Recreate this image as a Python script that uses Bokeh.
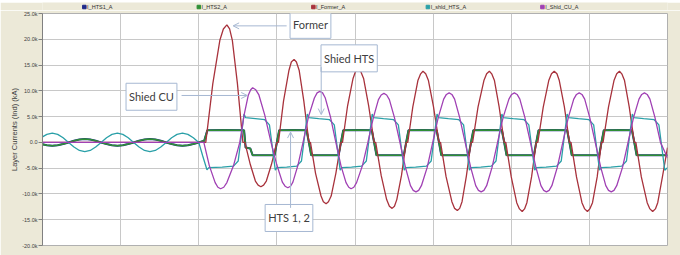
from bokeh.plotting import figure
from bokeh.layouts import column
from bokeh.models import Range1d, FixedTicker, Label, Arrow, OpenHead, Title
from bokeh.core.properties import value
from bokeh.embed import file_html
from bokeh.resources import INLINE

# ---------------- data (time in ms, currents in kA) ----------------
x_grid_ms = [0, 20, 40, 60, 80, 100, 120, 140, 160]
y_ticks = [-20, -15, -10, -5, 0, 5, 10, 15, 20, 25]
y_tick_labels = ["-20.0k", "-15.0k", "-10.0k", "-5.0k", "0.0", "5.0k", "10.0k", "15.0k", "20.0k", "25.0k"]

legend_names = ["I_HTS1_A", "I_HTS2_A", "I_Former_A", "I_shld_HTS_A", "I_Shld_CU_A"]

former_t = [0, 41.8, 43.6, 45.4, 46.3, 47.2, 47.9, 48.6, 49.9, 51.3,
            51.8, 53.2, 54.5, 55.2, 55.9, 56.6, 57.3, 58.6, 60.0,
            60.4, 61.7, 63.1, 63.7, 64.4, 65.0, 65.7, 66.9, 68.2,
            68.6, 69.9, 71.3, 71.9, 72.6, 73.2, 73.9, 75.1, 76.4,
            76.8, 78.1, 79.5, 80.1, 80.8, 81.5, 82.2, 83.5, 84.9,
            85.3, 86.7, 88.1, 88.8, 89.5, 90.1, 90.7, 91.9, 93.1,
            93.5, 94.8, 96.1, 96.8, 97.4, 98.1, 98.8, 100.1, 101.5,
            101.9, 103.3, 104.8, 105.5, 106.2, 106.8, 107.4, 108.5, 109.7,
            110.1, 111.5, 113.0, 113.7, 114.4, 115.0, 115.7, 116.9, 118.2,
            118.6, 120.0, 121.4, 122.1, 122.8, 123.4, 124.0, 125.2, 126.4,
            126.8, 128.2, 129.6, 130.3, 131.0, 131.7, 132.3, 133.6, 134.9,
            135.3, 136.7, 138.1, 138.8, 139.5, 140.1, 140.8, 142.0, 143.1,
            143.5, 144.9, 146.3, 147.0, 147.7, 148.3, 149.0, 150.2, 151.5,
            151.9, 153.3, 154.8, 155.5, 156.2, 156.9, 157.5, 158.7, 160.0]
former_kA = [0, 0, 11.4, 19.8, 22.0, 22.8, 22.0, 19.8, 11.4, 0,
             0, -4.3, -7.5, -8.3, -8.6, -8.3, -7.5, -4.3, 0,
             0, 8.0, 14.0, 15.6, 16.1, 15.6, 14.0, 8.0, 0,
             0, -6.0, -10.4, -11.5, -11.9, -11.5, -10.4, -6.0, 0,
             0, 7.1, 12.4, 13.7, 14.2, 13.7, 12.4, 7.1, 0,
             0, -6.4, -11.1, -12.4, -12.8, -12.4, -11.1, -6.4, 0,
             0, 6.9, 12.0, 13.3, 13.8, 13.3, 12.0, 6.9, 0,
             0, -6.6, -11.5, -12.8, -13.2, -12.8, -11.5, -6.6, 0,
             0, 6.9, 12.0, 13.3, 13.8, 13.3, 12.0, 6.9, 0,
             0, -6.7, -11.7, -12.9, -13.4, -12.9, -11.7, -6.7, 0,
             0, 6.9, 12.0, 13.3, 13.8, 13.3, 12.0, 6.9, 0,
             0, -6.7, -11.7, -12.9, -13.4, -12.9, -11.7, -6.7, 0,
             0, 6.9, 12.0, 13.3, 13.8, 13.3, 12.0, 6.9, 0,
             0, -6.7, -11.7, -12.9, -13.4, -12.9, -11.7, -6.7, -1.0]

shldcu_t = [0, 41.3, 42.7, 44.2, 44.9, 45.6, 46.4, 47.2, 48.9, 50.5,
            51.6, 52.7, 53.3, 53.8, 54.6, 55.4, 56.9, 58.5,
            60.0, 61.4, 62.1, 62.8, 63.5, 64.1, 65.4, 66.7,
            68.1, 69.6, 70.3, 71.0, 71.7, 72.4, 73.7, 75.1,
            76.4, 77.7, 78.4, 79.0, 79.7, 80.4, 81.9, 83.3,
            84.7, 86.0, 86.7, 87.4, 88.1, 88.8, 90.1, 91.5,
            92.9, 94.2, 94.9, 95.6, 96.3, 97.0, 98.5, 99.9,
            101.3, 102.7, 103.4, 104.1, 104.8, 105.5, 106.8, 108.2,
            109.6, 110.9, 111.6, 112.3, 113.0, 113.7, 115.1, 116.5,
            117.9, 119.4, 120.1, 120.8, 121.5, 122.2, 123.5, 124.9,
            126.3, 127.6, 128.3, 129.0, 129.7, 130.4, 131.8, 133.2,
            134.6, 136.0, 136.7, 137.4, 138.1, 138.8, 140.1, 141.5,
            142.9, 144.2, 144.9, 145.6, 146.3, 147.0, 148.5, 149.9,
            151.3, 152.7, 153.4, 154.1, 154.8, 155.5, 156.8, 158.2,
            160.0]
shldcu_kA = [0, 0, -4.5, -7.8, -8.7, -9.0, -8.7, -7.8, -4.5, 0,
             5.3, 9.2, 10.2, 10.6, 10.2, 9.2, 5.3, 0,
             -4.4, -7.7, -8.5, -8.8, -8.5, -7.7, -4.4, 0,
             5.0, 8.6, 9.6, 9.9, 9.6, 8.6, 5.0, 0,
             -4.5, -7.8, -8.7, -9.0, -8.7, -7.8, -4.5, 0,
             4.8, 8.3, 9.2, 9.5, 9.2, 8.3, 4.8, 0,
             -4.8, -8.4, -9.3, -9.6, -9.3, -8.4, -4.8, 0,
             4.8, 8.4, 9.3, 9.6, 9.3, 8.4, 4.8, 0,
             -4.8, -8.4, -9.3, -9.6, -9.3, -8.4, -4.8, 0,
             4.8, 8.4, 9.3, 9.6, 9.3, 8.4, 4.8, 0,
             -4.8, -8.4, -9.3, -9.6, -9.3, -8.4, -4.8, 0,
             4.8, 8.4, 9.3, 9.6, 9.3, 8.4, 4.8, 0,
             -4.8, -8.4, -9.3, -9.6, -9.3, -8.4, -4.8, 0,
             4.8, 8.4, 9.3, 9.6, 9.3, 8.4, 4.8, 0,
             -3.0]

shldhts_t = [0, 1.11, 2.5, 3.89, 5.28, 6.67, 8.06, 9.44, 10.83, 12.22,
             13.61, 15.0, 16.39, 17.78, 19.17, 20.56, 21.94, 23.33, 24.72, 26.11,
             27.5, 28.89, 30.28, 31.67, 33.06, 34.44, 35.83, 37.22, 38.61, 40.0,
             41.0, 42.1, 42.6, 46.0,
             48.9, 50.1, 51.6, 52.0, 54.5,
             56.9, 58.1, 59.6, 60.0, 62.5,
             65.1, 66.3, 67.8, 68.2, 70.7,
             73.5, 74.7, 76.2, 76.6, 79.1,
             81.7, 82.9, 84.4, 84.8, 87.3,
             89.9, 91.1, 92.6, 93.0, 95.5,
             98.3, 99.5, 101.0, 101.4, 103.9,
             106.6, 107.8, 109.3, 109.7, 112.2,
             114.9, 116.1, 117.6, 118.0, 120.5,
             123.3, 124.5, 126.0, 126.4, 128.9,
             131.6, 132.8, 134.3, 134.7, 137.2,
             139.9, 141.1, 142.6, 143.0, 145.5,
             148.3, 149.5, 151.0, 151.4, 153.9,
             156.6, 157.8, 159.3, 160.0]
shldhts_kA = [1.06, 1.56, 1.8, 1.56, 0.9, 0, -0.9, -1.56, -1.8, -1.56,
              -0.9, 0, 0.9, 1.56, 1.8, 1.56, 0.9, 0, -0.9, -1.56,
              -1.8, -1.56, -0.9, 0, 0.9, 1.56, 1.8, 1.56, 0.9, 0,
              -2.6, -5.3, -4.9, -4.8,
              -4.6, -3.6, 5.5, 4.8, 4.6,
              4.4, 3.4, -5.4, -4.9, -4.8,
              -4.6, -3.6, 5.5, 4.8, 4.6,
              4.4, 3.4, -5.4, -4.9, -4.8,
              -4.6, -3.6, 5.5, 4.8, 4.6,
              4.4, 3.4, -5.4, -4.9, -4.8,
              -4.6, -3.6, 5.5, 4.8, 4.6,
              4.4, 3.4, -5.4, -4.9, -4.8,
              -4.6, -3.6, 5.5, 4.8, 4.6,
              4.4, 3.4, -5.4, -4.9, -4.8,
              -4.6, -3.6, 5.5, 4.8, 4.6,
              4.4, 3.4, -5.4, -4.9, -4.8,
              -4.6, -3.6, 5.5, 4.8, 4.6,
              4.4, 3.4, -5.4, -4.9]

hts_t = [0, 1.11, 2.5, 3.89, 5.28, 6.67, 8.06, 9.44, 10.83, 12.22,
         13.61, 15.0, 16.39, 17.78, 19.17, 20.56, 21.94, 23.33, 24.72, 26.11,
         27.5, 28.89, 30.28, 31.67, 33.06, 34.44, 35.83, 37.22, 38.61, 40.0,
         41.4, 42.2, 46.5, 51.6, 52.0, 53.2, 53.8, 57.0,
         59.4, 60.0, 60.6, 64.4,
         67.6, 68.2, 68.8, 72.6,
         75.8, 76.4, 77.0, 80.8,
         84.3, 84.9, 85.5, 89.5,
         92.5, 93.1, 93.7, 97.4,
         100.9, 101.5, 102.1, 106.2,
         109.1, 109.7, 110.3, 114.4,
         117.6, 118.2, 118.8, 122.8,
         125.8, 126.4, 127.0, 131.0,
         134.3, 134.9, 135.5, 139.5,
         142.5, 143.1, 143.7, 147.7,
         150.9, 151.5, 152.1, 156.2, 160.0]
hts2_kA = [-0.38, -0.56, -0.65, -0.56, -0.33, 0, 0.33, 0.56, 0.65, 0.56,
           0.33, 0, -0.33, -0.56, -0.65, -0.56, -0.33, 0, 0.33, 0.56,
           0.65, 0.56, 0.33, 0, -0.33, -0.56, -0.65, -0.56, -0.33, 0,
           0.3, 2.35, 2.4, 2.35, -1.0, -1.2, -2.5, -2.5,
           -2.5, 0.0, 2.35, 2.4,
           2.35, 0.0, -2.5, -2.5,
           -2.5, 0.0, 2.35, 2.4,
           2.35, 0.0, -2.5, -2.5,
           -2.5, 0.0, 2.35, 2.4,
           2.35, 0.0, -2.5, -2.5,
           -2.5, 0.0, 2.35, 2.4,
           2.35, 0.0, -2.5, -2.5,
           -2.5, 0.0, 2.35, 2.4,
           2.35, 0.0, -2.5, -2.5,
           -2.5, 0.0, 2.35, 2.4,
           2.35, 0.0, -2.5, -2.5, -2.5]
# HTS1 and HTS2 layer currents lie on top of each other in the picture
hts1_kA = list(hts2_kA)

assert len(former_t) == len(former_kA)
assert len(shldcu_t) == len(shldcu_kA)
assert len(shldhts_t) == len(shldhts_kA)
assert len(hts_t) == len(hts2_kA)

# ---------------- styling ----------------
BEIGE = "#ECE9D8"
TXT = "#404040"
colors = ["#1f2a8a", "#2f8f35", "#a8323c", "#2aa0a8", "#a040b4"]
C_HTS1, C_HTS2, C_FORMER, C_SHLDHTS, C_SHLDCU = colors

# ---------------- legend strip (top) ----------------
LEG_W, LEG_H = 680, 10
lg = figure(width=LEG_W, height=LEG_H, output_backend="svg", toolbar_location=None,
            x_range=Range1d(0, LEG_W), y_range=Range1d(0, LEG_H),
            x_axis_type=None, y_axis_type=None, min_border=0)
lg.grid.visible = False
lg.outline_line_color = None
lg.background_fill_color = BEIGE
lg.border_fill_color = BEIGE
leg_x = [45.5 + 124.6 * i for i in range(len(legend_names))]
lg.scatter(x=leg_x, y=[5.5] * len(leg_x), marker="square", size=3.5,
           fill_color=colors, line_color=colors)
lg.text(x=[v + 3 for v in leg_x], y=[5.5] * len(leg_x), text=legend_names,
        text_font=value("Liberation Sans"), text_font_size="5.5px",
        text_color="#303030", text_baseline="middle", text_align="left")

# ---------------- main plot ----------------
p = figure(width=680, height=245, output_backend="svg", toolbar_location=None,
           x_range=Range1d(0, 160), y_range=Range1d(-20, 25),
           min_border_left=42, min_border_right=13, min_border_top=3, min_border_bottom=10)
p.border_fill_color = BEIGE
p.background_fill_color = "white"
p.outline_line_color = "#b0b0b0"

p.xaxis.visible = False
p.xgrid.ticker = FixedTicker(ticks=x_grid_ms)
p.ygrid.ticker = FixedTicker(ticks=y_ticks)
p.grid.grid_line_color = "#c8c8c8"
p.grid.grid_line_width = 1

ax = p.yaxis[0]
ax.ticker = FixedTicker(ticks=y_ticks)
ax.major_label_overrides = {t: s for t, s in zip(y_ticks, y_tick_labels)}
ax.major_label_text_font = "Liberation Sans"
ax.major_label_text_font_size = "5.5px"
ax.major_label_text_color = TXT
ax.major_label_standoff = 1
ax.major_tick_out = 4
ax.major_tick_in = 0
ax.minor_tick_line_color = None
ax.axis_line_color = "#808080"
ax.major_tick_line_color = "#808080"

p.add_layout(Title(text="Layer Currents (Ind) (kA)", align="center", offset=-15,
                   text_font="Liberation Sans", text_font_size="7.5px",
                   text_font_style="normal", text_color=TXT, standoff=2), "left")

p.line(hts_t, hts1_kA, color=C_HTS1, line_width=2.1)
p.line(hts_t, hts2_kA, color=C_HTS2, line_width=1.6)
p.line(former_t, former_kA, color=C_FORMER, line_width=1.3)
p.line(shldhts_t, shldhts_kA, color=C_SHLDHTS, line_width=1.3)
p.line(shldcu_t, shldcu_kA, color=C_SHLDCU, line_width=1.3)

# annotation boxes and arrows
ARROW = "#a6b8d2"
boxes = [("Former", 68.6, 22.8), ("Shied HTS", 78.5, 16.3),
         ("Shied CU", 27.9, 8.85), ("HTS 1, 2", 63.1, -14.66)]
for txt, bx, by in boxes:
    p.add_layout(Label(x=bx, y=by, text=txt, text_align="center", text_baseline="middle",
                       text_font="Lato", text_font_size="11px", text_color=TXT,
                       background_fill_color="white", border_line_color=ARROW,
                       border_line_width=1, padding=(3, 7)))

arrows = [(62.5, 22.6, 48.8, 22.6), (71.35, 14.6, 71.35, 5.4),
          (35.6, 9.1, 52.4, 9.1), (63.5, -12.7, 63.5, 2.0)]
for x0, y0, x1, y1 in arrows:
    p.add_layout(Arrow(x_start=x0, y_start=y0, x_end=x1, y_end=y1,
                       line_color=ARROW, line_width=1,
                       end=OpenHead(size=6, line_color=ARROW, line_width=1)))

layout = column(lg, p, spacing=0)
open("out.html", "w").write(file_html(layout, INLINE))
